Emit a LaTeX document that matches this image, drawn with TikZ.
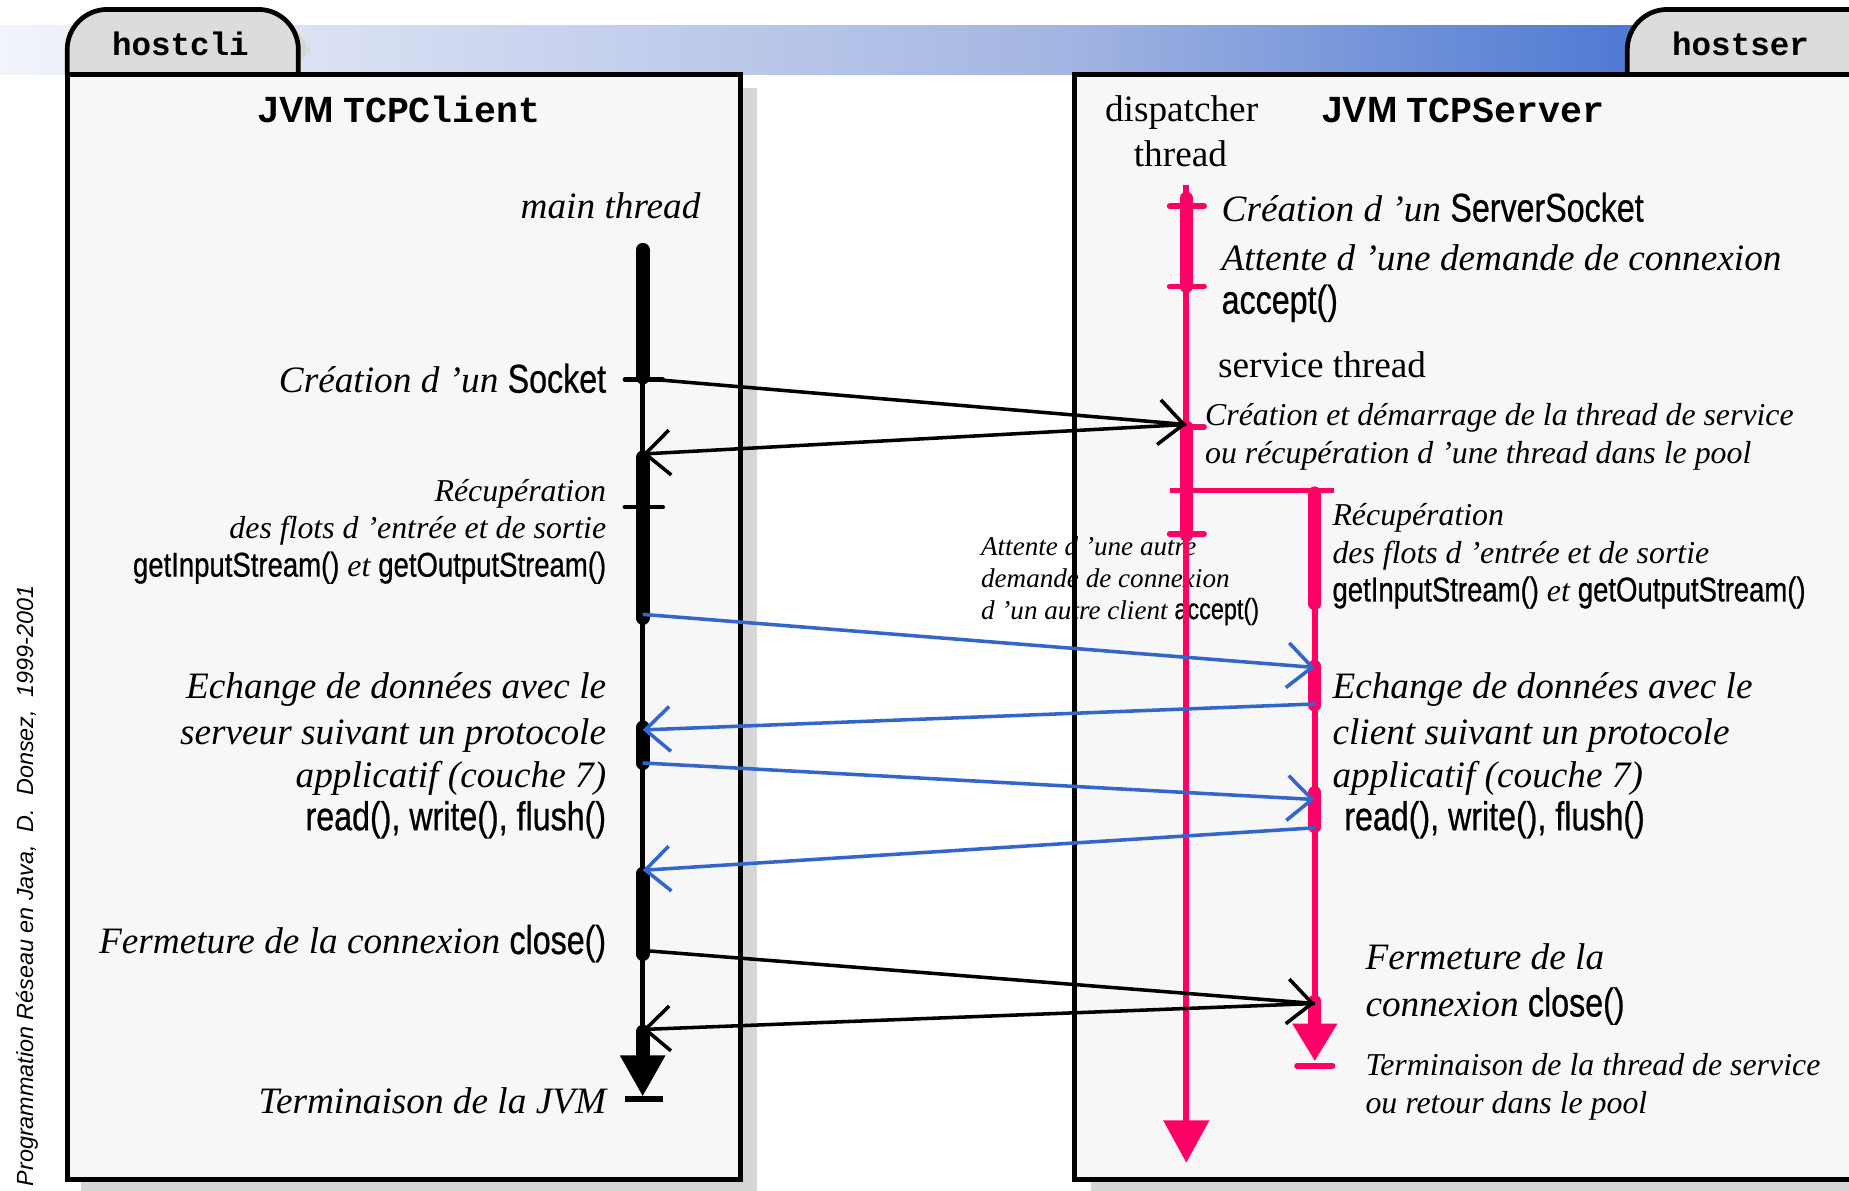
\documentclass[tikz,border=0pt]{standalone}
\usepackage{fontspec}
\setmainfont{Liberation Serif}
\newfontfamily\nsans[FakeStretch=0.80,FakeBold=0.6,Scale=1.08]{Liberation Sans}
\newfontfamily\hsans{Liberation Sans}
\newfontfamily\cmono{Liberation Mono}
\usetikzlibrary{arrows.meta}
\definecolor{pinkc}{HTML}{FF0066}
\definecolor{bluec}{HTML}{3366CC}
\definecolor{boxfill}{HTML}{F7F7F7}
\definecolor{tabfill}{HTML}{DCDCDC}
\definecolor{shadowc}{HTML}{D6D6D6}
\definecolor{bandA}{HTML}{F2F4FB}
\definecolor{bandB}{HTML}{A3B5E2}
\definecolor{bandC}{HTML}{2E62CC}
\newcommand\mth[1]{{\upshape\nsans #1}}
\tikzset{
  lbl/.style={inner sep=0pt, outer sep=0pt},
  fbig/.style={lbl, font=\fontsize{15.8}{19}\selectfont\itshape},
  fmid/.style={lbl, font=\fontsize{13.5}{16}\selectfont\itshape},
  fsml/.style={lbl, font=\fontsize{11.5}{14}\selectfont\itshape},
  fup/.style={lbl, font=\fontsize{15.8}{19}\selectfont},
  fhdr/.style={lbl, font=\fontsize{15.5}{19}\selectfont},
  ftab/.style={lbl, font=\fontsize{13.8}{16}\selectfont\cmono\bfseries},
  border/.style={line width=2pt, line join=miter},
  cthin/.style={line width=2pt},
  cthick/.style={line width=6pt, line cap=round},
  ctick/.style={line width=2pt, line cap=round},
  pthin/.style={pinkc, line width=2.5pt},
  pthick/.style={pinkc, line width=5.5pt, line cap=round},
  ptick/.style={pinkc, line width=2.5pt, line cap=round},
  msg/.style={line width=1.5pt, -{Straight Barb[length=10.5pt,width=19pt]}},
  bmsg/.style={msg, bluec},
}
\begin{document}
\begin{tikzpicture}[x=0.5pt,y=-0.5pt]
\useasboundingbox (0,0) rectangle (1568,1010);
\clip (0,0) rectangle (1568,1010);
\fill[white] (0,0) rectangle (1568,1010);
% gradient band
\shade[left color=bandA, right color=bandB] (0,22) rectangle (900,63);
\shade[left color=bandB, right color=bandC] (899.5,22) rectangle (1570,63);
% shadows
\fill[shadowc, rounded corners=17pt] (67,64) -- (67,18) -- (263,18) -- (263,64) -- cycle;
\fill[shadowc] (69,75) rectangle (642,1010);
\fill[shadowc] (925,75) rectangle (1620,1010);
% tabs
\filldraw[fill=tabfill, border, rounded corners=17pt] (57,64) -- (57,8) -- (253,8) -- (253,64);
\filldraw[fill=tabfill, border, rounded corners=17pt] (1380,64) -- (1380,8) -- (1620,8) -- (1620,64);
\node[ftab, anchor=base] (hc) at (153,47) {hostcli};
\node[ftab, anchor=base] (hs) at (1476,47) {hostser};
% box fills
\fill[boxfill] (57,63) rectangle (628,1000);
\fill[boxfill] (911,63) rectangle (1620,1000);
% footer
\node[lbl, font=\fontsize{9.9}{11}\selectfont\hsans\itshape, rotate=90, anchor=base west] (foot) at (28,1006) {Programmation Réseau en Java,\ \ D.\ \ Donsez,\ \ 1999-2001};
% headers
\node[fhdr, anchor=base] (hdrc) at (339,104) {{\hsans\bfseries JVM} {\cmono\bfseries TCPClient}};
\node[fhdr, anchor=base] (hdrs) at (1241,104) {{\hsans\bfseries JVM} {\cmono\bfseries TCPServer}};
% client texts
\node[fbig, anchor=base east] (mt) at (594,185) {main thread};
\node[fbig, anchor=base east] (l1) at (514,333) {Création d ’un \mth{Socket}};
\node[fmid, anchor=base east] (l2a) at (514,425) {Récupération};
\node[fmid, anchor=base east] (l2b) at (514,457) {des flots d ’entrée et de sortie};
\node[fmid, anchor=base east] (l2c) at (514,489) {\mth{getInputStream()} et \mth{getOutputStream()}};
\node[fbig, anchor=base east] (l3a) at (514,592) {Echange de données avec le};
\node[fbig, anchor=base east] (l3b) at (514,631) {serveur suivant un protocole};
\node[fbig, anchor=base east] (l3c) at (514,668) {applicatif (couche 7)};
\node[fbig, anchor=base east] (l3d) at (514,704) {\mth{read(), write(), flush()}};
\node[fbig, anchor=base east] (l4) at (514,809) {Fermeture de la connexion \mth{close()}};
\node[fbig, anchor=base east] (l5) at (514,944) {Terminaison de la JVM};
% server texts
\node[fup, anchor=base] (dt1) at (1002,103) {dispatcher};
\node[fup, anchor=base] (dt2) at (1001,141) {thread};
\node[fbig, anchor=base west] (r1) at (1036,188) {Création d ’un \mth{ServerSocket}};
\node[fbig, anchor=base west] (r2) at (1036,229) {Attente d ’une demande de connexion};
\node[fbig, anchor=base west] (r3) at (1036,266) {\mth{accept()}};
\node[fup, anchor=base west] (st) at (1033,320) {service thread};
\node[fmid, anchor=base west] (r4a) at (1022,361) {Création et démarrage de la thread de service};
\node[fmid, anchor=base west] (r4b) at (1022,393) {ou récupération d ’une thread dans le pool};
\node[fsml, anchor=base west] (r5a) at (832,471) {Attente d ’une autre};
\node[fsml, anchor=base west] (r5b) at (832,498) {demande de connexion};
\node[fsml, anchor=base west] (r5c) at (832,525) {d ’un autre client \mth{accept()}};
\node[fmid, anchor=base west] (r6a) at (1130,446) {Récupération};
\node[fmid, anchor=base west] (r6b) at (1130,478) {des flots d ’entrée et de sortie};
\node[fmid, anchor=base west] (r6c) at (1130,510) {\mth{getInputStream()} et \mth{getOutputStream()}};
\node[fbig, anchor=base west] (r7a) at (1130,592) {Echange de données avec le};
\node[fbig, anchor=base west] (r7b) at (1130,631) {client suivant un protocole};
\node[fbig, anchor=base west] (r7c) at (1130,668) {applicatif (couche 7)};
\node[fbig, anchor=base west] (r7d) at (1140,704) {\mth{read(), write(), flush()}};
\node[fbig, anchor=base west] (r8a) at (1158,822) {Fermeture de la};
\node[fbig, anchor=base west] (r8b) at (1158,862) {connexion \mth{close()}};
\node[fmid, anchor=base west] (r9a) at (1158,912) {Terminaison de la thread de service};
\node[fmid, anchor=base west] (r9b) at (1158,944) {ou retour dans le pool};
% box borders
\draw[border] (57,63) rectangle (628,1000);
\draw[border] (911,63) rectangle (1620,1000);
% client main thread
\draw[cthin] (545,210) -- (545,890);
\draw[cthick] (545,212) -- (545,320);
\draw[cthick] (545,388) -- (545,524);
\draw[cthick] (545,617) -- (545,647);
\draw[cthick] (545,741) -- (545,809);
\draw[cthick] (545,875) -- (545,892);
\draw[line width=6pt, -{Triangle[length=17.5pt,width=18pt]}] (545,885) -- (545,930);
\draw[ctick] (530,322) -- (562,322);
\draw[ctick] (530,430) -- (562,430);
\draw[line width=2.5pt] (530,932) -- (562,932);
% dispatcher thread
\draw[pthin] (1006,157) -- (1006,960);
\draw[pinkc, line width=2.5pt, -{Triangle[length=18pt,width=19pt]}] (1006,940) -- (1006,986);
\draw[pthick] (1006,168) -- (1006,243);
\draw[pthick] (1006,362) -- (1006,454);
\draw[ptick] (992,175) -- (1021,175);
\draw[ptick] (992,243) -- (1021,243);
\draw[ptick] (1006,362) -- (1021,362);
\draw[ptick] (992,453) -- (1021,453);
\draw[pinkc, line width=2.5pt] (992,416) -- (1131,416);
% service thread
\draw[pthin] (1115,416) -- (1115,870);
\draw[pthick] (1115,418) -- (1115,512);
\draw[pthick] (1115,565) -- (1115,598);
\draw[pthick] (1115,672) -- (1115,701);
\draw[pthick] (1115,849) -- (1115,866);
\draw[pinkc, line width=5.5pt, -{Triangle[length=16pt,width=18pt]}] (1115,860) -- (1115,900);
\draw[ptick] (1100,904) -- (1130,904);
% message anchor points
\coordinate (cA) at (545,321);
\coordinate (dA) at (1006,360);
\coordinate (cB) at (545,385);
\coordinate (cC) at (545,521);
\coordinate (sC) at (1115,566);
\coordinate (sD) at (1115,597);
\coordinate (cD) at (545,619);
\coordinate (cE) at (545,647);
\coordinate (sE) at (1115,678);
\coordinate (sF) at (1115,702);
\coordinate (cF) at (545,738);
\coordinate (cG) at (545,806);
\coordinate (sG) at (1115,851);
\coordinate (cH) at (545,873);
% messages
\draw[msg] (cA) -- (dA);
\draw[msg] (dA) -- (cB);
\draw[bmsg] (cC) -- (sC);
\draw[bmsg] (sD) -- (cD);
\draw[bmsg] (cE) -- (sE);
\draw[bmsg] (sF) -- (cF);
\draw[msg] (cG) -- (sG);
\draw[msg] (sG) -- (cH);
\end{tikzpicture}
\end{document}
